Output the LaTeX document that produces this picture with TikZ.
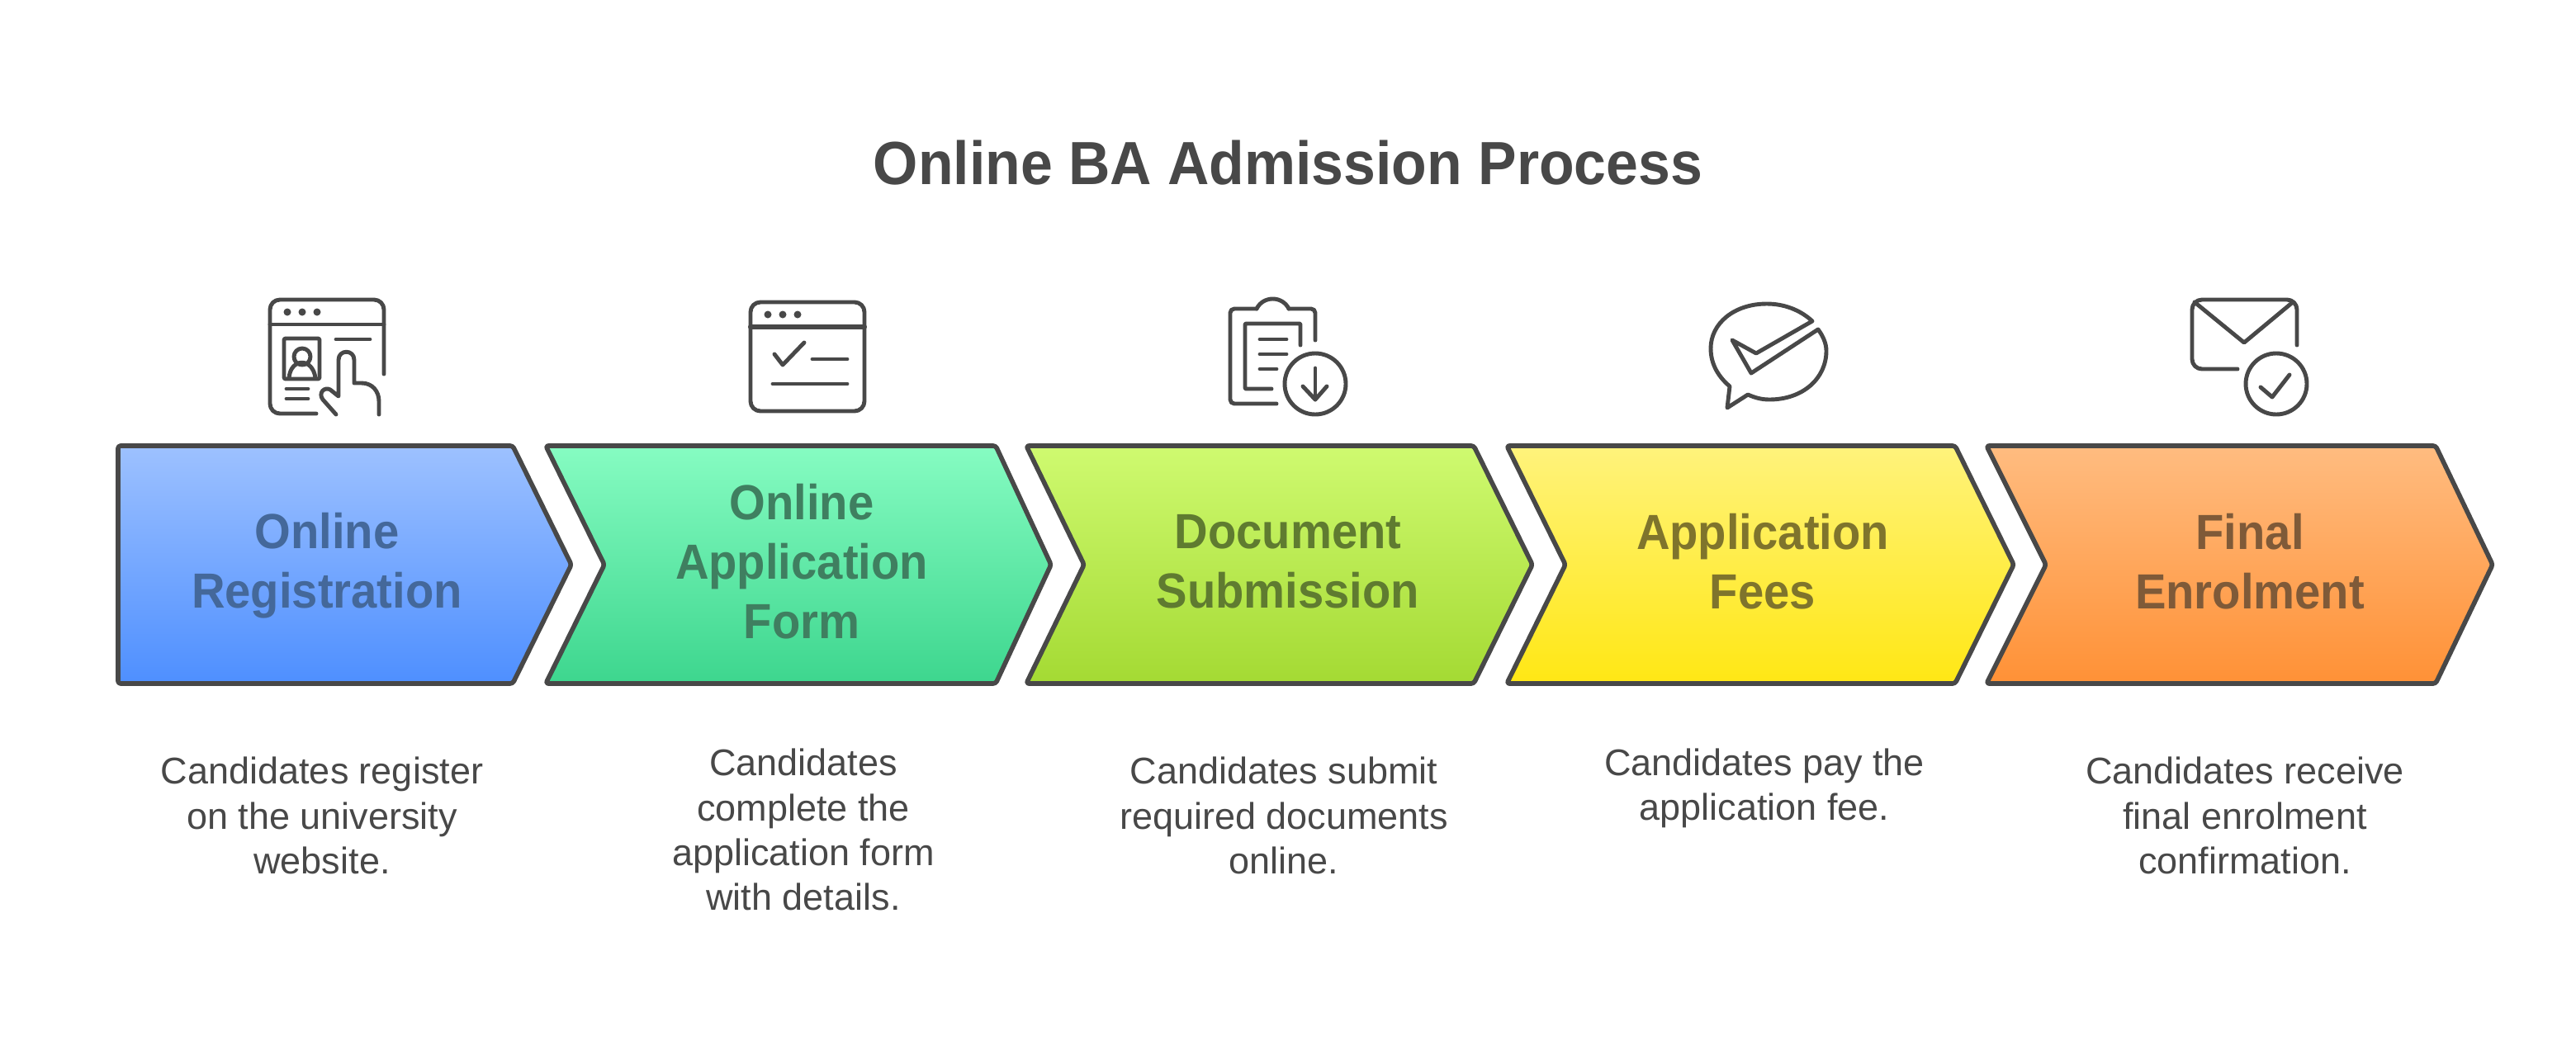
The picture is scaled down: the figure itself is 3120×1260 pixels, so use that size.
\documentclass[tikz,border=0pt]{standalone}
\usepackage{fontspec}
\setmainfont{Liberation Sans}
\usetikzlibrary{calc}
\definecolor{inkgrey}{HTML}{484848}
\definecolor{blueA}{HTML}{9DC1FF}
\definecolor{blueB}{HTML}{4E8FFF}
\definecolor{blueT}{HTML}{44689A}
\definecolor{greenA}{HTML}{86FCC2}
\definecolor{greenB}{HTML}{3DD68E}
\definecolor{greenT}{HTML}{3F7F60}
\definecolor{limeA}{HTML}{CFFA70}
\definecolor{limeB}{HTML}{A4DA33}
\definecolor{limeT}{HTML}{5F7B30}
\definecolor{yellowA}{HTML}{FFF37C}
\definecolor{yellowB}{HTML}{FFE714}
\definecolor{yellowT}{HTML}{7F742C}
\definecolor{orangeA}{HTML}{FFBC80}
\definecolor{orangeB}{HTML}{FF9136}
\definecolor{orangeT}{HTML}{7F5A38}
\tikzset{
	chevron/.style={draw=inkgrey, line width=1.6pt, line join=round, rounded corners=0.03cm},
	stepname/.style={font=\fontsize{17}{20.5}\selectfont\bfseries\addfontfeature{FakeStretch=0.94}, align=center},
	stepnote/.style={font=\fontsize{12.8}{15.4}\selectfont, align=center, text=inkgrey},
	icon/.style={draw=inkgrey, line width=1.4pt, line cap=round, line join=round}
}
\def\stepshape[#1](#2,#3,#4,#5){\draw[chevron, top color=#1A, bottom color=#1B] (#2, 540) -- (#4, 540) -- (#5, 684) -- (#4, 828) -- (#2, 828) -- (#3, 684) -- cycle;}

\begin{document}
\begin{tikzpicture}[x=0.01cm, y=-0.01cm]
		%%%%% START %%%%%
		
		\useasboundingbox (0, 0) rectangle (3120, 1260);
		
		\node[font=\fontsize{21}{25}\selectfont\bfseries\addfontfeature{FakeStretch=0.945}, text=inkgrey] (title) at (1560, 197) {Online BA Admission Process};
		
		\stepshape[blue](143, 143, 621, 692)
		\stepshape[green](661, 732, 1206, 1273)
		\stepshape[lime](1243, 1313, 1785, 1856)
		\stepshape[yellow](1825, 1896, 2368, 2439)
		\stepshape[orange](2406, 2478, 2950, 3019)
		
		\node[stepname, text=blueT] (registration) at (396, 685) {Online\\Registration};
		\node[stepname, text=greenT] (form) at (971, 680) {Online\\Application\\Form};
		\node[stepname, text=limeT] (submission) at (1560, 680) {Document\\Submission};
		\node[stepname, text=yellowT] (fees) at (2135, 680) {Application\\Fees};
		\node[stepname, text=orangeT] (enrolment) at (2725, 680) {Final\\Enrolment};
		
		\node[stepnote] (registrationnote) at (390, 988) {Candidates register\\on the university\\website.};
		\node[stepnote] (formnote) at (973, 1005) {Candidates\\complete the\\application form\\with details.};
		\node[stepnote] (submissionnote) at (1555, 988) {Candidates submit\\required documents\\online.};
		\node[stepnote] (feesnote) at (2137, 955) {Candidates pay the\\application fee.};
		\node[stepnote] (enrolmentnote) at (2719, 988) {Candidates receive\\final enrolment\\confirmation.};
		
		%% browser with hand
		\draw[icon, rounded corners=0.12cm] (383, 501) -- (327, 501) -- (327, 363) -- (465, 363) -- (465, 453);
		\draw[icon] (327, 393) -- (465, 393);
		\fill[inkgrey] (348, 378) circle (4.5) (366, 378) circle (4.5) (384, 378) circle (4.5);
		\draw[icon, rounded corners=0.02cm] (344, 410) rectangle (387, 459);
		\draw[icon] (366, 432) circle (10);
		\draw[icon] (350, 458) .. controls (352, 433) and (379, 433) .. (382, 458);
		\draw[icon] (407, 411) -- (448, 411);
		\draw[icon] (347, 471) -- (373, 471);
		\draw[icon] (347, 483) -- (373, 483);
		\draw[icon] (407, 502) -- (391, 484) .. controls (385, 476) and (393, 468) .. (400, 472) -- (410, 480) -- (410, 436) .. controls (410, 423) and (429, 423) .. (429, 436) -- (429, 464) -- (438, 464) .. controls (451, 464) and (459, 474) .. (459, 486) -- (459, 502);
		
		%% browser with check
		\draw[icon, rounded corners=0.12cm] (909, 366) rectangle (1047, 498);
		\draw[icon, line width=1.7pt] (909, 396) -- (1047, 396);
		\fill[inkgrey] (930, 381) circle (4.5) (948, 381) circle (4.5) (966, 381) circle (4.5);
		\draw[icon] (938, 429) -- (948, 442) -- (974, 415);
		\draw[icon] (984, 435) -- (1026, 435);
		\draw[icon] (936, 465) -- (1026, 465);
		
		%% clipboard
		\draw[icon, rounded corners=0.05cm] (1546, 489) -- (1490, 489) -- (1490, 374) -- (1522, 374);
		\draw[icon] (1522, 374) .. controls (1530, 358) and (1553, 358) .. (1561, 374);
		\draw[icon, rounded corners=0.05cm] (1561, 374) -- (1593, 374) -- (1593, 412);
		\draw[icon, rounded corners=0.01cm] (1540, 471) -- (1508, 471) -- (1508, 392) -- (1575, 392) -- (1575, 418);
		\draw[icon] (1526, 411) -- (1558, 411);
		\draw[icon] (1526, 429) -- (1558, 429);
		\draw[icon] (1526, 447) -- (1546, 447);
		\draw[icon] (1593, 465) circle (37);
		\draw[icon] (1593, 446) -- (1593, 484);
		\draw[icon] (1578, 468) -- (1593, 484) -- (1607, 468);
		
		%% speech bubble
		\draw[icon] (2195, 389) .. controls (2180, 375) and (2160, 368) .. (2140, 368) .. controls (2100, 368) and (2072, 392) .. (2072, 422) .. controls (2072, 441) and (2081, 456) .. (2095, 468) -- (2092, 494) -- (2117, 478) .. controls (2126, 482) and (2134, 484) .. (2143, 484) .. controls (2184, 484) and (2212, 458) .. (2212, 425) .. controls (2212, 416) and (2208, 407) .. (2202, 399) -- (2121, 452) -- (2098, 412) -- (2127, 428) -- cycle;
		
		%% envelope
		\draw[icon, rounded corners=0.12cm] (2710, 447) -- (2655, 447) -- (2655, 363) -- (2782, 363) -- (2782, 418);
		\draw[icon] (2658, 366) -- (2718, 415) -- (2777, 366);
		\draw[icon] (2757, 465) circle (37);
		\draw[icon] (2738, 469) -- (2752, 481) -- (2773, 454);
		
		%%%%% END %%%%%
	\end{tikzpicture}
\end{document}
